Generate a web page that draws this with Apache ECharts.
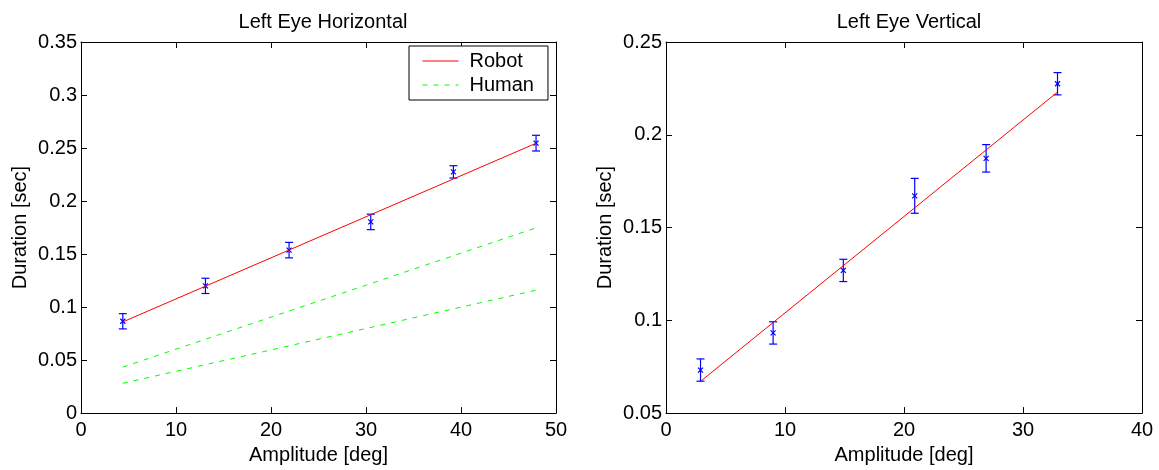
<!DOCTYPE html>
<html>
<head>
<meta charset="utf-8">
<script src="https://cdn.jsdelivr.net/npm/echarts@6/dist/echarts.min.js"></script>
<style>html,body{margin:0;padding:0;background:#fff;}#c{width:1159px;height:470px;}</style>
</head>
<body>
<div id="c"></div>
<script>
// ---- Data ----
const titles = ['Left Eye Horizontal', 'Left Eye Vertical'];
const xName = 'Amplitude [deg]';
const yName = 'Duration [sec]';
// Left Eye Horizontal: measured robot points (mean, +/- error)
const lhAmp = [4.4, 13.1, 21.9, 30.5, 39.2, 47.9];
const lhDur = [0.0866, 0.1200, 0.1537, 0.1803, 0.2275, 0.2546];
const lhErr = [0.0072, 0.0072, 0.0073, 0.0073, 0.0058, 0.0074];
// fitted lines (endpoints)
const lhRobotFit = [[4.4, 0.0860], [47.9, 0.2545]];
const lhHumanUpper = [[4.4, 0.0434], [47.9, 0.1747]];
const lhHumanLower = [[4.4, 0.0281], [47.9, 0.1159]];
// Left Eye Vertical
const lvAmp = [2.9, 9.0, 14.9, 20.9, 26.9, 32.9];
const lvDur = [0.0732, 0.0932, 0.1269, 0.1671, 0.1873, 0.2275];
const lvErr = [0.0060, 0.0060, 0.0060, 0.0094, 0.0074, 0.0060];
const lvRobotFit = [[2.9, 0.0671], [32.9, 0.2230]];
const legendNames = ['Robot', 'Human'];

const FONT = 'Liberation Sans, Arial, Helvetica, sans-serif';
const FS = 20;
const chart = echarts.init(document.getElementById('c'), null, {renderer: 'canvas'});

function errData(a, d, e) { return a.map((v, i) => [v, d[i], e[i]]); }

function errRender(params, api) {
  const x = api.value(0), y = api.value(1), e = api.value(2);
  const c = api.coord([x, y]);
  const t = api.coord([x, y + e]);
  const b = api.coord([x, y - e]);
  const st = {stroke: '#0000ff', lineWidth: 1.2, fill: null};
  const cw = 4, m = 2.5;
  return {
    type: 'group',
    children: [
      {type: 'line', shape: {x1: c[0], y1: t[1], x2: c[0], y2: b[1]}, style: st},
      {type: 'line', shape: {x1: c[0] - cw, y1: t[1], x2: c[0] + cw, y2: t[1]}, style: st},
      {type: 'line', shape: {x1: c[0] - cw, y1: b[1], x2: c[0] + cw, y2: b[1]}, style: st},
      {type: 'line', shape: {x1: c[0] - m, y1: c[1] - m, x2: c[0] + m, y2: c[1] + m}, style: st},
      {type: 'line', shape: {x1: c[0] - m, y1: c[1] + m, x2: c[0] + m, y2: c[1] - m}, style: st}
    ]
  };
}

const axLine = {show: true, onZero: false, lineStyle: {color: '#000', width: 1}};
const axTick = {show: true, inside: true, length: 6, lineStyle: {color: '#000'}};
const lbl = {color: '#000', fontSize: FS, fontFamily: FONT};

function mainX(gi, max) {
  return {gridIndex: gi, type: 'value', min: 0, max: max, interval: 10, position: 'bottom',
    axisLine: axLine, axisTick: axTick, splitLine: {show: false},
    axisLabel: Object.assign({margin: 7}, lbl),
    name: xName, nameLocation: 'middle', nameGap: 27,
    nameTextStyle: {color: '#000', fontSize: FS, fontFamily: FONT}};
}
function topX(gi, max) {
  return {gridIndex: gi, type: 'value', min: 0, max: max, interval: 10, position: 'top',
    axisLine: axLine, axisTick: axTick, splitLine: {show: false}, axisLabel: {show: false}};
}
function mainY(gi, min, max) {
  return {gridIndex: gi, type: 'value', min: min, max: max, interval: 0.05, position: 'left',
    axisLine: axLine, axisTick: axTick, splitLine: {show: false},
    axisLabel: Object.assign({margin: 4}, lbl),
    name: yName, nameLocation: 'middle', nameGap: 51,
    nameTextStyle: {color: '#000', fontSize: FS, fontFamily: FONT}};
}
function rightY(gi, min, max) {
  return {gridIndex: gi, type: 'value', min: min, max: max, interval: 0.05, position: 'right',
    axisLine: axLine, axisTick: axTick, splitLine: {show: false}, axisLabel: {show: false}};
}

const option = {
  backgroundColor: '#fff',
  animation: false,
  title: [
    {text: titles[0], left: 318, top: 7, textAlign: 'center',
      textStyle: {fontSize: FS, fontWeight: 'normal', color: '#000', fontFamily: FONT}},
    {text: titles[1], left: 904, top: 7, textAlign: 'center',
      textStyle: {fontSize: FS, fontWeight: 'normal', color: '#000', fontFamily: FONT}}
  ],
  legend: {
    data: legendNames, orient: 'vertical', left: 409, top: 46,
    backgroundColor: '#fff', borderColor: '#000', borderWidth: 1, borderRadius: 0,
    padding: [5, 14, 5, 13], itemGap: 4, itemWidth: 36, itemHeight: 14,
    itemStyle: {opacity: 0},
    lineStyle: {width: 1},
    textStyle: {color: '#000', fontSize: FS, fontFamily: FONT, padding: [0, 0, 0, 6]}
  },
  grid: [
    {left: 81, right: 603, top: 42, bottom: 52, containLabel: false},
    {left: 666, right: 17, top: 42, bottom: 52, containLabel: false}
  ],
  xAxis: [mainX(0, 50), topX(0, 50), mainX(1, 40), topX(1, 40)],
  yAxis: [mainY(0, 0, 0.35), rightY(0, 0, 0.35), mainY(1, 0.05, 0.25), rightY(1, 0.05, 0.25)],
  series: [
    {name: 'Robot', type: 'line', xAxisIndex: 0, yAxisIndex: 0, data: lhRobotFit,
      symbol: 'none', lineStyle: {color: '#ff0000', width: 1}, itemStyle: {color: '#ff0000'}},
    {name: 'Human', type: 'line', xAxisIndex: 0, yAxisIndex: 0, data: lhHumanUpper,
      symbol: 'none', lineStyle: {color: '#00ff00', width: 1, type: [5, 6]}, itemStyle: {color: '#00ff00'}},
    {name: 'Human', type: 'line', xAxisIndex: 0, yAxisIndex: 0, data: lhHumanLower,
      symbol: 'none', lineStyle: {color: '#00ff00', width: 1, type: [5, 6]}, itemStyle: {color: '#00ff00'}},
    {name: 'errLH', type: 'custom', xAxisIndex: 0, yAxisIndex: 0, renderItem: errRender,
      data: errData(lhAmp, lhDur, lhErr), encode: {x: 0, y: 1}, z: 3},
    {name: 'RobotV', type: 'line', xAxisIndex: 2, yAxisIndex: 2, data: lvRobotFit,
      symbol: 'none', lineStyle: {color: '#ff0000', width: 1}},
    {name: 'errLV', type: 'custom', xAxisIndex: 2, yAxisIndex: 2, renderItem: errRender,
      data: errData(lvAmp, lvDur, lvErr), encode: {x: 0, y: 1}, z: 3}
  ]
};
chart.setOption(option);
</script>
</body>
</html>
